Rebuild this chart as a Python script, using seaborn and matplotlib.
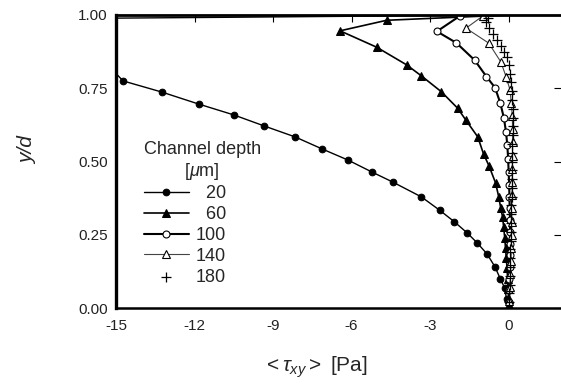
import numpy as np
import pandas as pd
import matplotlib
matplotlib.use('Agg')
import matplotlib.pyplot as plt
import seaborn as sns

# shear stress profiles, one list pair per channel depth
s20_x = [0.0, -11.0, -17.0, -14.73, -13.25, -11.84, -10.5, -9.33, -8.16, -7.13, -6.14, -5.22,
         -4.43, -3.33, -2.64, -2.07, -1.58, -1.2, -0.82, -0.52, -0.32, -0.15, -0.08, 0.0]
s20_y = [1.0, 0.992, 0.988, 0.775, 0.737, 0.696, 0.659, 0.621, 0.584, 0.543, 0.505, 0.464,
         0.43, 0.379, 0.334, 0.294, 0.256, 0.222, 0.184, 0.14, 0.10, 0.068, 0.03, 0.0]

s60_x = [0.0, -4.66, -6.44, -5.04, -3.9, -3.33, -2.57, -1.95, -1.64, -1.18, -0.96, -0.75,
         -0.5, -0.38, -0.3, -0.23, -0.19, -0.15, -0.12, -0.09, -0.06, -0.04, -0.02, 0.0]
s60_y = [1.0, 0.982, 0.946, 0.89, 0.83, 0.792, 0.738, 0.682, 0.642, 0.584, 0.526, 0.485,
         0.427, 0.38, 0.34, 0.31, 0.275, 0.24, 0.205, 0.17, 0.135, 0.10, 0.065, 0.03]

s100_x = [0.0, -1.86, -2.74, -2.0, -1.3, -0.85, -0.52, -0.32, -0.18, -0.1, -0.05, -0.02,
          0.0, 0.02, 0.03, 0.04, 0.05, 0.05, 0.05, 0.04, 0.04, 0.03, 0.02, 0.01]
s100_y = [1.0, 0.997, 0.944, 0.905, 0.846, 0.79, 0.752, 0.70, 0.648, 0.60, 0.555, 0.51,
          0.465, 0.42, 0.38, 0.34, 0.30, 0.26, 0.22, 0.18, 0.14, 0.10, 0.06, 0.02]

s140_x = [0.0, -0.98, -1.63, -0.76, -0.3, -0.1, 0.05, 0.1, 0.14, 0.15, 0.15, 0.15, 0.14,
          0.14, 0.13, 0.12, 0.12, 0.11, 0.1, 0.09, 0.07, 0.05, 0.03]
s140_y = [1.0, 0.997, 0.955, 0.904, 0.84, 0.79, 0.745, 0.70, 0.655, 0.61, 0.565, 0.52, 0.475,
          0.43, 0.385, 0.34, 0.295, 0.25, 0.205, 0.16, 0.115, 0.07, 0.025]

s180_x = [-0.8, -0.85, -0.75, -0.6, -0.45, -0.3, -0.18, -0.08, 0.0, 0.05, 0.1, 0.12, 0.14,
          0.15, 0.15, 0.15, 0.15, 0.14, 0.14, 0.13, 0.13, 0.12, 0.12, 0.11, 0.1, 0.1, 0.09,
          0.08, 0.08, 0.07, 0.06, 0.05, 0.05, 0.04, 0.03, 0.02]
s180_y = [0.99, 0.975, 0.955, 0.935, 0.915, 0.895, 0.875, 0.855, 0.83, 0.80, 0.77, 0.74, 0.71,
          0.68, 0.65, 0.62, 0.59, 0.56, 0.53, 0.50, 0.47, 0.44, 0.41, 0.38, 0.35, 0.32, 0.29,
          0.26, 0.23, 0.20, 0.17, 0.14, 0.11, 0.08, 0.05, 0.02]

xticks = [-15, -12, -9, -6, -3, 0]
yticks = [0.0, 0.25, 0.5, 0.75, 1.0]

sns.set_theme(style='white')
plt.rcParams['font.family'] = ['Liberation Sans', 'DejaVu Sans']
plt.rcParams['mathtext.fontset'] = 'custom'
plt.rcParams['mathtext.rm'] = 'Liberation Sans'
plt.rcParams['mathtext.it'] = 'Liberation Sans:italic'

fig = plt.figure(figsize=(5.61, 3.91), dpi=100)
ax = fig.add_axes([116 / 561, 1 - 308 / 391, 445 / 561, 293 / 391])

sns.lineplot(x=s20_x, y=s20_y, sort=False, estimator=None, ax=ax, color='black', lw=1.0,
             marker='o', markersize=4.8, markerfacecolor='black', markeredgecolor='black',
             markevery=list(range(3, len(s20_x))), label='  20')
sns.lineplot(x=s60_x, y=s60_y, sort=False, estimator=None, ax=ax, color='black', lw=1.2,
             marker='^', markersize=5.8, markerfacecolor='black', markeredgecolor='black',
             markevery=list(range(1, len(s60_x))), label='  60')
sns.lineplot(x=s100_x, y=s100_y, sort=False, estimator=None, ax=ax, color='black', lw=1.5,
             marker='o', markersize=5, markerfacecolor='white', markeredgecolor='black',
             markeredgewidth=0.8, markevery=list(range(1, len(s100_x))), label='100')
sns.lineplot(x=s140_x, y=s140_y, sort=False, estimator=None, ax=ax, color='#444444', lw=0.8,
             marker='^', markersize=5.5, markerfacecolor='white', markeredgecolor='black',
             markeredgewidth=0.8, markevery=list(range(1, len(s140_x))), label='140')
sns.scatterplot(x=s180_x, y=s180_y, ax=ax, marker='+', s=45, color='black', linewidth=0.9,
                label='180', zorder=3)

ax.set_xlim(-15, 2)
ax.set_ylim(0, 1)
ax.set_xticks(xticks)
ax.set_xticklabels([str(t) for t in xticks])
ax.set_yticks(yticks)
ax.set_yticklabels(['%.2f' % t for t in yticks])

for side, w in [('left', 2.4), ('top', 2.0), ('bottom', 1.8)]:
    ax.spines[side].set_linewidth(w)
    ax.spines[side].set_color('black')
ax.spines['right'].set_visible(False)
ax.tick_params(direction='in', length=5, width=0.8, color='black', labelsize=11,
               labelcolor='#222222', top=True, right=True, pad=6)
ax.tick_params(axis='x', pad=8)

leg = ax.legend(title='Channel depth\n[$\\mathit{\\mu}$m]', frameon=False, loc='upper left',
                bbox_to_anchor=(131 / 561, 1 - 128 / 391), bbox_transform=fig.transFigure,
                fontsize=13, title_fontsize=13, handlelength=2.5, handletextpad=0.4,
                labelspacing=0.21, borderpad=0.2, alignment='left')
leg.get_title().set_multialignment('center')

fig.text(28 / 561, 1 - 150 / 391, 'y/d', rotation=90, style='italic', fontsize=15,
         ha='center', va='center')
fig.text(315 / 561, 1 - 367 / 391, r'$<\tau_{xy}>$ [Pa]', fontsize=15, ha='center', va='center')

fig.savefig('out.png', dpi=100)
